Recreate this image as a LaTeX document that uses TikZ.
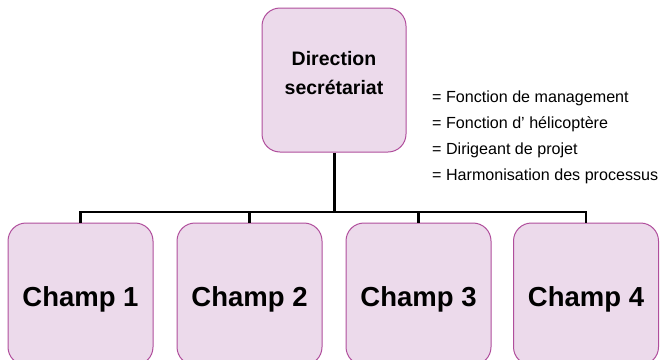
\documentclass[tikz,border=0pt]{standalone}
\usepackage{fontspec}
\setmainfont{Liberation Sans}
\definecolor{boxfill}{RGB}{236,218,235}
\definecolor{boxdraw}{RGB}{176,78,156}
\begin{document}
\begin{tikzpicture}[x=1pt,y=-1pt,
  orgbox/.style={draw=boxdraw,fill=boxfill,line width=1pt,rounded corners=18pt,inner sep=0pt},
  topbox/.style={orgbox,minimum width=144pt,minimum height=144pt},
  champbox/.style={orgbox,minimum width=145pt,minimum height=142pt},
  toptxt/.style={anchor=base,inner sep=0pt,font=\bfseries\fontsize{19.5}{23}\selectfont},
  champtxt/.style={anchor=base,inner sep=0pt,font=\bfseries\fontsize{27.5}{32}\selectfont},
  legtxt/.style={anchor=base west,inner sep=0pt,font=\fontsize{16.1}{19}\selectfont},
  conn/.style={line width=2.2pt,line cap=butt}
]
\useasboundingbox (0,0) rectangle (660,359);
\begin{scope}
\clip (0,0) rectangle (660,359);
\node[topbox] (top) at (334,80) {};
\node[toptxt] (d1) at (334,65) {Direction};
\node[toptxt] (d2) at (334,94) {secrétariat};

\node[champbox] (c1) at (80.5,294) {};
\node[champbox] (c2) at (249.5,294) {};
\node[champbox] (c3) at (418.5,294) {};
\node[champbox] (c4) at (586,294) {};
\node[champtxt] (t1) at (80.5,306.5) {Champ 1};
\node[champtxt] (t2) at (249.5,306.5) {Champ 2};
\node[champtxt] (t3) at (418.5,306.5) {Champ 3};
\node[champtxt] (t4) at (586,306.5) {Champ 4};

\coordinate (bus) at (334,212);
\draw[conn,line width=3pt] (top.south) -- (bus);
\draw[conn] (c1.north) |- (bus) -| (c4.north);
\draw[conn] (c2.north) -- (c2.north |- bus);
\draw[conn] (c3.north) -- (c3.north |- bus);

\node[legtxt] (g1) at (432,102) {= Fonction de management};
\node[legtxt] (g2) at (432,128) {= Fonction d’ hélicoptère};
\node[legtxt] (g3) at (432,154) {= Dirigeant de projet};
\node[legtxt] (g4) at (432,180) {= Harmonisation des processus};
\end{scope}
\end{tikzpicture}
\end{document}
